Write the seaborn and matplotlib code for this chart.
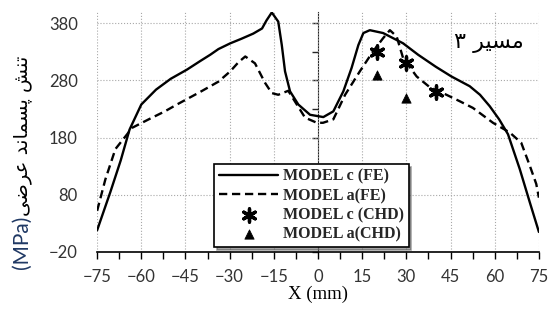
import numpy as np
import pandas as pd
import matplotlib
matplotlib.use("Agg")
import matplotlib.pyplot as plt
import seaborn as sns

# ---- data ----
x_c_fe = [-75, -70.5, -67, -64, -60, -55, -50, -44.5, -40, -36.6, -33.8, -29.8, -26, -22, -19,
          -17.5, -15.7, -13.5, -12.3, -11.2, -9.5, -6.7, -2.7, 1.8, 5.2, 8.6, 11.4, 13.7, 15.4,
          17.6, 22.1, 28.9, 34, 40, 45.3, 51.5, 55, 58.3, 61.5, 64.5, 68.5, 71.9, 75]
y_c_fe = [18, 85, 140, 194, 238, 264, 283, 299, 314, 325, 335, 345, 353, 362, 371,
          385, 399, 383, 342, 296, 261, 238, 220, 216, 226, 261, 302, 342, 363,
          368, 363, 345, 325, 304, 287, 270, 255, 235, 212, 186, 125, 67, 15]

x_a_fe = [-75, -72.2, -68.8, -64.8, -63.2, -57.5, -52, -47.9, -40, -33.8, -29.8, -27, -24.7,
          -21.4, -18, -15.7, -13.5, -10.1, -7.2, -4.4, -0.4, 1.7, 5.2, 9.2, 14.2, 18.7, 22.1,
          24.4, 26.7, 28.9, 33.5, 38, 43.6, 48, 52.6, 59.4, 65.1, 69, 71.9, 74.1, 75]
y_a_fe = [52, 107, 160, 186, 197, 212, 226, 238, 260, 278, 296, 312, 322,
          310, 276, 258, 255, 262, 238, 215, 206, 206, 212, 255, 296, 331, 354,
          368, 357, 319, 287, 268, 255, 244, 232, 206, 189, 171, 131, 99, 75]

x_c_chd = [20, 30, 40]
y_c_chd = [330, 310, 260]
x_a_chd = [20, 30]
y_a_chd = [290, 250]

x_ticks = np.arange(-75, 76, 15)
y_ticks = np.arange(-20, 381, 100)

# pre-shaped Persian text (visual order, presentation forms)
path_label = "\u06F3 \uFEAE\uFBFF\uFEB4\uFEE3"            # مسیر ۳
ylabel_fa = ("\uFBFD\uFEBF\uFEAE\uFECB" + " " +
             "\uFEAA\uFEE7\uFE8E\uFEE4\uFEB4\uFB58" + " " +
             "\uFEB6\uFEE8\uFE97")                          # تنش پسماند عرضی

sns.set_style("white")
plt.rcParams["font.family"] = ["Lato", "DejaVu Sans"]

fig = plt.figure(figsize=(5.55, 3.13), dpi=100)
ax = fig.add_axes([0.175, 0.195, 0.796, 0.767])

sns.lineplot(x=x_c_fe, y=y_c_fe, ax=ax, color="black", linewidth=1.7,
             sort=False, label="MODEL c (FE)")
sns.lineplot(x=x_a_fe, y=y_a_fe, ax=ax, color="black", linewidth=1.7,
             sort=False, label="MODEL a(FE)")
ax.lines[1].set_dashes([3.5, 2])
sns.scatterplot(x=x_c_chd, y=y_c_chd, ax=ax, marker=(6, 2, 0), s=90,
                color="black", linewidth=2.4, label="MODEL c (CHD)")
sns.scatterplot(x=x_a_chd, y=y_a_chd, ax=ax, marker="^", s=45,
                color="black", edgecolor="black", label="MODEL a(CHD)")

ax.set_xlim(-75, 75)
ax.set_ylim(-20, 400)
ax.set_xticks(x_ticks)
ax.set_xticks(np.arange(-75, 76, 7.5), minor=True)
ax.set_yticks(y_ticks)
ax.grid(True, which="major", linestyle=":", color="#a8a8a8", linewidth=0.8)

for s in ["top", "right", "left"]:
    ax.spines[s].set_visible(False)
ax.spines["bottom"].set_color("black")
ax.spines["bottom"].set_linewidth(1.2)
ax.tick_params(axis="x", which="both", direction="out", length=5, width=1,
               color="black", bottom=True, labelsize=12, labelcolor="#333333", pad=7)
ax.tick_params(axis="y", length=0, labelsize=12, labelcolor="#333333", pad=14)

# vertical axis crossing at x = 0
sec = ax.secondary_yaxis(0.5)
sec.set_yticks(np.arange(-20, 401, 50))
sec.yaxis.set_ticks_position("left")
sec.tick_params(axis="y", direction="out", length=4, width=1, labelleft=False,
                labelright=False)
sec.spines["left"].set_color("black")
sec.spines["left"].set_linewidth(1.2)

ax.set_xlabel("X (mm)", fontfamily="Liberation Serif", fontsize=13.5, color="black",
              labelpad=1)

t_mpa = fig.text(0.04, 0.14, "(MPa)", rotation=90, fontsize=15, color="#1f3864",
                 fontfamily="Lato", va="bottom", ha="center")
ax.annotate(ylabel_fa, xy=(0.5, 1.0), xycoords=t_mpa, rotation=90, fontsize=14,
            color="black", fontfamily="DejaVu Sans", va="bottom", ha="center",
            annotation_clip=False)

ax.text(58, 346, path_label, fontsize=16, fontfamily="DejaVu Sans",
        ha="center", va="center", color="black")

leg = ax.legend(loc="lower left", bbox_to_anchor=(0.265, 0.02), frameon=True,
                fancybox=False, shadow=True, handlelength=3.7, labelspacing=0.2,
                borderpad=0.3, handletextpad=0.3, borderaxespad=0,
                prop={"family": "Liberation Serif", "weight": "bold", "size": 11.5})
leg.get_frame().set_edgecolor("black")
leg.get_frame().set_linewidth(1.2)

fig.savefig("out.png", dpi=100, facecolor="white")
